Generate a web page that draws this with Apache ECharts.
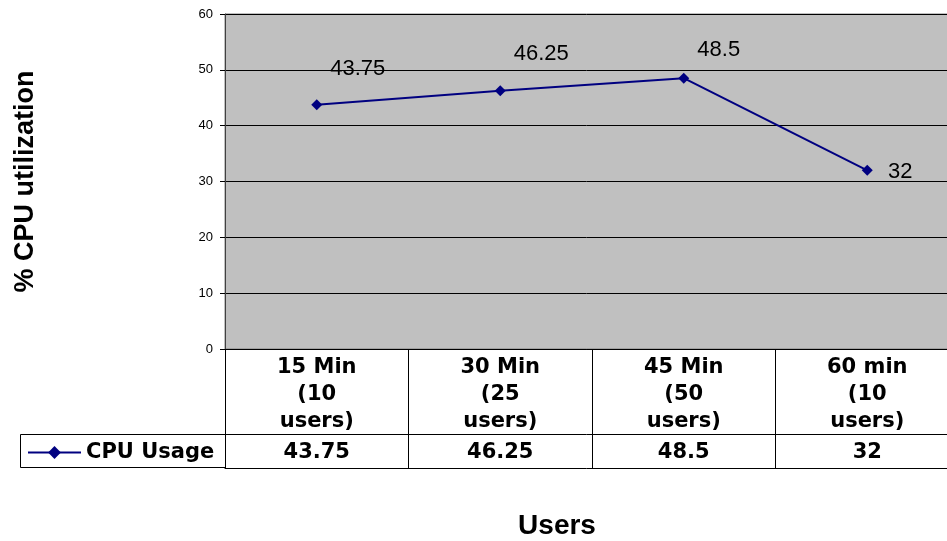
<!DOCTYPE html>
<html>
<head>
<meta charset="utf-8">
<script src="https://cdn.jsdelivr.net/npm/echarts@6/dist/echarts.min.js"></script>
<style>html,body{margin:0;padding:0;background:#fff}#c{width:947px;height:541px}</style>
</head>
<body>
<div id="c"></div>
<script>
const categories = ['15 Min\n(10\nusers)', '30 Min\n(25\nusers)', '45 Min\n(50\nusers)', '60 min\n(10\nusers)'];
const cpuUsage = [43.75, 46.25, 48.5, 32];
const seriesName = 'CPU Usage';
const yTicks = [0, 10, 20, 30, 40, 50, 60];

const labelOffsets = [[41, -36], [41, -37], [35, -28], [33, 2]];

const chart = echarts.init(document.getElementById('c'));
const tableFont = { fontFamily: 'DejaVu Sans', fontWeight: 'bold', fontSize: 21, color: '#000' };

chart.setOption({
  animation: false,
  backgroundColor: '#fff',
  title: {
    text: 'Users', left: 557, top: 512, textAlign: 'center', padding: 0,
    textStyle: { fontFamily: 'Liberation Sans', fontWeight: 'bold', fontSize: 28, color: '#000' }
  },
  legend: {
    left: 27, top: 442, padding: 0, itemWidth: 53, itemHeight: 16, itemGap: 5,
    lineStyle: { width: 2 },
    textStyle: tableFont,
    data: [seriesName]
  },
  grid: {
    left: 225, top: 14, right: -12, bottom: 192,
    outerBoundsMode: 'none', containLabel: false,
    show: true, backgroundColor: '#C0C0C0', borderColor: '#808080', borderWidth: 1
  },
  xAxis: [
    {
      type: 'category', data: categories, boundaryGap: true, gridIndex: 0, position: 'bottom',
      axisLine: { show: true, lineStyle: { color: '#000', width: 1 } },
      axisTick: { show: true, length: 119, lineStyle: { color: '#000' } },
      axisLabel: Object.assign({ interval: 0, margin: 5, lineHeight: 27, align: 'center' }, tableFont)
    },
    {
      type: 'category', data: cpuUsage.map(String), boundaryGap: true, gridIndex: 0,
      position: 'bottom', offset: 85,
      axisLine: { show: true, lineStyle: { color: '#000', width: 1 } },
      axisTick: { show: false },
      axisLabel: Object.assign({ interval: 0, margin: 2, lineHeight: 34 }, tableFont)
    },
    {
      type: 'category', data: categories, boundaryGap: true, gridIndex: 0,
      position: 'bottom', offset: 119,
      axisLine: { show: true, lineStyle: { color: '#000', width: 1 } },
      axisTick: { show: false },
      axisLabel: { show: false }
    }
  ],
  yAxis: {
    type: 'value', min: yTicks[0], max: yTicks[yTicks.length - 1], interval: 10,
    name: '% CPU utilization', nameLocation: 'middle', nameGap: 186, nameRotate: 90,
    nameTextStyle: { fontFamily: 'Liberation Sans', fontWeight: 'bold', fontSize: 27, color: '#000' },
    axisLine: { show: true, lineStyle: { color: '#404040', width: 1 } },
    axisTick: { show: true, length: 5, lineStyle: { color: '#000' } },
    axisLabel: { margin: 12, fontFamily: 'Liberation Sans', fontSize: 13, color: '#000' },
    splitLine: { show: true, lineStyle: { color: '#000', width: 1 } }
  },
  graphic: [
    {
      type: 'polyline', silent: true,
      shape: { points: [[225, 434.5], [20.5, 434.5], [20.5, 467.5], [225, 467.5]] },
      style: { stroke: '#000', lineWidth: 1, fill: null }
    }
  ],
  series: [{
    name: seriesName, type: 'line', xAxisIndex: 0, yAxisIndex: 0,
    data: cpuUsage.map((v, i) => ({
      value: v,
      label: { offset: labelOffsets[i] }
    })),
    symbol: 'diamond', symbolSize: 11,
    lineStyle: { color: '#000080', width: 2 },
    itemStyle: { color: '#000080' },
    label: {
      show: true, position: 'inside', align: 'center', verticalAlign: 'middle',
      fontFamily: 'Liberation Sans', fontSize: 22, color: '#000'
    }
  }]
});
</script>
</body>
</html>
